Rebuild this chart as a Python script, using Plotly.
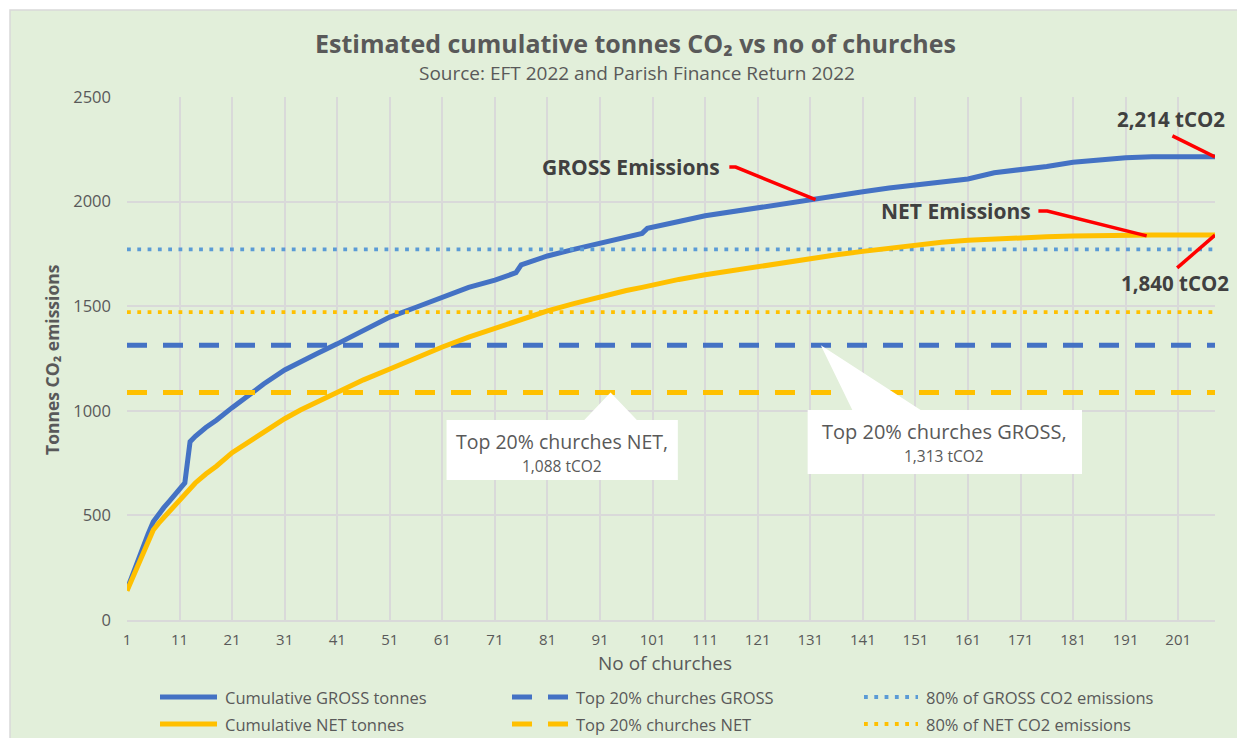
import plotly.graph_objects as go

# ---------------- data ----------------
churches = [1, 2, 3, 4, 5, 6, 7, 8, 9, 10, 11, 12, 13, 14, 16, 18, 21, 24, 27, 31,
            34, 37, 41, 46, 51, 56, 61, 66, 71, 74, 75, 76, 81, 86, 91, 96, 99, 100,
            101, 106, 111, 116, 121, 126, 131, 136, 141, 146, 151, 156, 161, 166,
            171, 176, 181, 186, 191, 196, 201, 205, 208]

gross_cum = [145, 215, 280, 340, 410, 470, 508, 537, 566, 596, 625, 655, 852, 878,
             920, 955, 1015, 1075, 1128, 1195, 1235, 1272, 1320, 1385,
             1448, 1495, 1540, 1590, 1625, 1650, 1660, 1698,
             1740, 1772, 1803, 1830, 1848, 1872, 1878,
             1905, 1932, 1952, 1968, 1990, 2010, 2030, 2047, 2065, 2080, 2095,
             2108, 2138, 2152, 2168, 2188, 2200, 2210, 2214, 2214, 2214, 2214]

net_cum = [140, 200, 262, 320, 385, 430, 462, 490, 520, 548, 575, 603, 630, 655,
           698, 735, 800, 850, 898, 962, 1004, 1040, 1085, 1148,
           1200, 1255, 1305, 1352, 1395, 1420, 1428, 1437,
           1478, 1512, 1545, 1575, 1590, 1596, 1600,
           1628, 1650, 1670, 1690, 1708, 1728, 1746, 1762, 1778, 1795, 1806,
           1815, 1822, 1828, 1832, 1835, 1838, 1840, 1840, 1840, 1840, 1840]

top20_gross = 1313
top20_net = 1088
gross_total = 2214
net_total = 1840
gross_80 = 0.8 * gross_total
net_80 = 0.8 * net_total

x_ticks = list(range(1, 202, 10))
y_ticks = [0, 500, 1000, 1500, 2000, 2500]

series_names = ["Cumulative GROSS tonnes", "Top 20% churches GROSS", "80% of GROSS CO2 emissions",
                "Cumulative NET tonnes", "Top 20% churches NET", "80% of NET CO2 emissions"]

# ---------------- styling ----------------
FONT = "Open Sans"
GREY = "#595959"
DARK = "#404040"
GREEN = "#E2EFDA"
GRID = "#D9D9D9"
BLUE = "#4472C4"
LBLUE = "#5B9BD5"
GOLD = "#FFC000"
RED = "#FF0000"

SOLID = dict(width=5)
DASHED = dict(width=5, dash="20px,16px")
DOTTED = dict(width=3.8, dash="3.8px,6.5px")

styles = [
    dict(color=BLUE, **SOLID), dict(color=BLUE, **DASHED), dict(color=LBLUE, **DOTTED),
    dict(color=GOLD, **SOLID), dict(color=GOLD, **DASHED), dict(color=GOLD, **DOTTED),
]

x_first, x_last = churches[0], churches[-1]
series_y = [gross_cum, [top20_gross] * 2, [gross_80] * 2,
            net_cum, [top20_net] * 2, [net_80] * 2]
series_x = [churches, [x_first, x_last], [x_first, x_last],
            churches, [x_first, x_last], [x_first, x_last]]

fig = go.Figure()
for name, xs, ys, st in zip(series_names, series_x, series_y, styles):
    fig.add_trace(go.Scatter(x=xs, y=ys, mode="lines", name=name, line=st, showlegend=False))

# page body has an 8px margin -> the figure is placed at (8, 8)
OFF = 8
W, H = 1245, 738
L, R, T, B = 127, 30, 97, 118          # reference pixel positions of plot area
PW, PH = W - L - R, H - T - B


def px_x(px):
    return (px - L) / PW


def px_y(py):
    return (H - B - py) / PH


shapes = []
# green chart area with grey border
shapes.append(dict(type="rect", xref="paper", yref="paper", layer="below",
                   x0=px_x(10), x1=px_x(W + 20), y0=px_y(H + 20), y1=px_y(10),
                   fillcolor=GREEN, line=dict(color=GRID, width=1.5)))

# callout boxes (white, with pointer) in data coordinates
net_box = "M 61.8,956 L 88,956 L 93,%d L 98,956 L 105.8,956 L 105.8,669 L 61.8,669 Z" % top20_net
gross_box = "M 130.5,1004 L 139,1004 L 133,%d L 152,1004 L 182.7,1004 L 182.7,698 L 130.5,698 Z" % top20_gross
for p in (net_box, gross_box):
    shapes.append(dict(type="path", xref="x", yref="y", path=p, fillcolor="white",
                       line=dict(width=0), layer="above"))

# red leader lines
red_paths = [
    "M 115.6,2165 L 116.8,2165 L 132,2010",
    "M 174.4,1955 L 176.1,1955 L 195,1836",
    "M 199.9,2314 L 208,%d" % gross_total,
    "M 200.8,1683 L 208,%d" % net_total,
]
for p in red_paths:
    shapes.append(dict(type="path", xref="x", yref="y", path=p,
                       line=dict(color=RED, width=3.5), layer="above"))


def ann(text, x, y, size, color=GREY, xanchor="center", ref="paper", **kw):
    if ref == "paper":
        d = dict(xref="paper", yref="paper", x=px_x(x), y=px_y(y))
    else:
        d = dict(xref="x", yref="y", x=x, y=y)
    d.update(text=text, showarrow=False, xanchor=xanchor, yanchor="middle",
             font=dict(family=FONT, size=size, color=color), **kw)
    return d


annotations = [
    ann("<b>Estimated cumulative tonnes CO₂ vs no of churches</b>", 635, 43, 25),
    ann("Source: EFT 2022 and Parish Finance Return 2022", 637, 73, 19),
    ann("No of churches", 665, 663, 19),
    ann("<b>Tonnes CO₂ emissions</b>", 52, 360, 17.5, textangle=-90),
    ann("<b>GROSS Emissions</b>", 631, 167, 21, color=DARK),
    ann("<b>NET Emissions</b>", 956, 211, 21, color=DARK),
    ann("<b>2,214 tCO2</b>", 1171, 119, 20.5, color=DARK),
    ann("<b>1,840 tCO2</b>", 1175, 283, 20.5, color=DARK),
    ann("Top 20% churches NET,", 83.7, 851, 19.5, ref="data"),
    ann("1,088 tCO2", 83.7, 736, 15.5, ref="data"),
    ann("Top 20% churches GROSS,", 156.5, 899, 20, ref="data"),
    ann("1,313 tCO2", 156.5, 784, 15.5, ref="data"),
]

# manual legend: 2 rows x 3 columns
leg_rows = [697, 724]
leg_cols = [(160, 217, 223), (512, 569, 574), (864, 918, 924)]
for i, (name, st) in enumerate(zip(series_names, styles)):
    r, c = divmod(i, 3)
    x0, x1, xt = leg_cols[c]
    yy = px_y(leg_rows[r])
    shapes.append(dict(type="line", xref="paper", yref="paper", x0=px_x(x0), x1=px_x(x1),
                       y0=yy, y1=yy, line=st))
    annotations.append(ann(name, xt, leg_rows[r], 16.5, xanchor="left"))

fig.update_layout(
    width=W - OFF, height=H - OFF,
    margin=dict(l=L - OFF, r=R, t=T - OFF, b=B, autoexpand=False),
    paper_bgcolor="white",
    plot_bgcolor="rgba(0,0,0,0)",
    font=dict(family=FONT, size=15, color=GREY),
    showlegend=False,
    shapes=shapes,
    annotations=annotations,
    xaxis=dict(range=[x_first, x_last], tickmode="array", tickvals=x_ticks,
               ticktext=[str(v) for v in x_ticks], showgrid=True, gridcolor=GRID, gridwidth=1.5,
               zeroline=False, showline=True, linecolor=GRID, linewidth=1.5, ticks="",
               tickfont=dict(family=FONT, size=15, color=GREY), ticklabelstandoff=5),
    yaxis=dict(range=[0, 2500], tickmode="array", tickvals=y_ticks, showgrid=True,
               gridcolor=GRID, gridwidth=1.5, zeroline=False, showline=False, ticks="",
               tickfont=dict(family=FONT, size=16.5, color=GREY), ticklabelstandoff=15),
)

fig.write_html("out.html")
